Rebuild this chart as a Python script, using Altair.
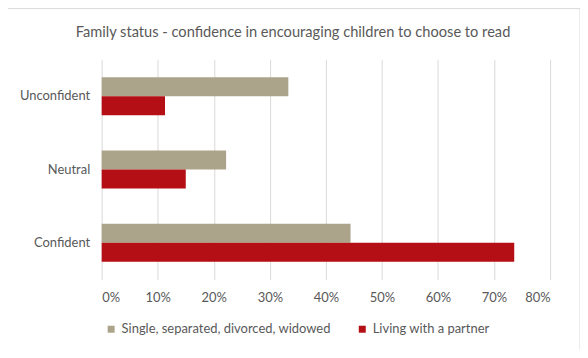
import altair as alt
import pandas as pd

categories = ["Unconfident", "Neutral", "Confident"]
series = ["Single, separated, divorced, widowed", "Living with a partner"]
single_vals = [0.333, 0.222, 0.444]
partner_vals = [0.113, 0.150, 0.736]
colors = ["#ABA38A", "#B30F14"]
x_ticks = [0, 0.1, 0.2, 0.3, 0.4, 0.5, 0.6, 0.7, 0.8]

rows = []
for c, s, p in zip(categories, single_vals, partner_vals):
    rows.append({"cat": c, "series": series[0], "value": s})
    rows.append({"cat": c, "series": series[1], "value": p})
df = pd.DataFrame(rows)

FONT = "Lato"
TXT = "#595959"

frame = alt.Chart(pd.DataFrame({"a": [0]})).mark_rect(
    fillOpacity=0, stroke="#d9d9d9", strokeWidth=1
).encode(
    x=alt.value(-95), x2=alt.value(480), y=alt.value(-51), y2=alt.value(293)
)

bars = alt.Chart(df).mark_bar().encode(
    y=alt.Y("cat:N", sort=categories, title=None,
            scale=alt.Scale(paddingInner=0.483, paddingOuter=0.245),
            axis=alt.Axis(domain=False, ticks=False, labelPadding=12,
                          labelFontSize=13, labelColor=TXT, labelFont=FONT)),
    yOffset=alt.YOffset("series:N", sort=series),
    x=alt.X("value:Q", title=None,
            scale=alt.Scale(domain=[0, 0.8], nice=False),
            axis=alt.Axis(values=x_ticks, format=".0%", domain=False, ticks=False,
                          grid=True, gridColor="#d9d9d9", labelPadding=12,
                          labelFontSize=13, labelColor=TXT, labelFont=FONT)),
    color=alt.Color("series:N", sort=series,
                    scale=alt.Scale(domain=series, range=colors),
                    legend=alt.Legend(title=None, orient="none", direction="horizontal",
                                      legendX=3, legendY=264,
                                      symbolType="square", symbolSize=49,
                                      symbolStrokeWidth=0, labelOffset=4,
                                      columnPadding=24, labelFontSize=13,
                                      labelLimit=0,
                                      labelColor=TXT, labelFont=FONT)),
)

chart = alt.layer(frame, bars).properties(
    width=450, height=221,
    padding={"left": 94, "top": 51, "right": 30, "bottom": 70},
    autosize=alt.AutoSizeParams(type="none"),
    title=alt.TitleParams(
        "Family status - confidence in encouraging children to choose to read",
        anchor="middle", dx=-33, offset=-44, fontSize=14.7, font=FONT,
        fontWeight="normal", color=TXT, baseline="alphabetic"),
).configure_view(stroke=None)

chart.save("out.html", embed_options={"renderer": "svg", "actions": False})
